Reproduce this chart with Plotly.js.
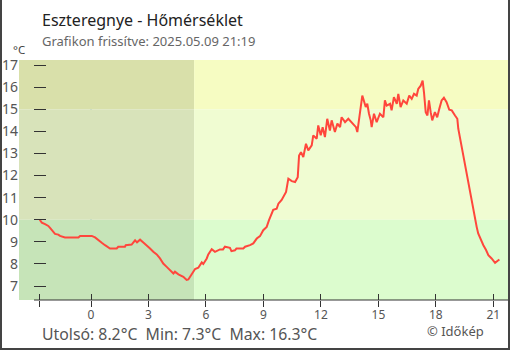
<!DOCTYPE html>
<html><head><meta charset="utf-8">
<script src="https://cdn.plot.ly/plotly-3.0.1.min.js"></script>
<style>
html,body{margin:0;padding:0;background:#fff;}
#wrap{position:relative;width:510px;height:350px;}
#chart{width:510px;height:350px;}
#frame{position:absolute;left:0;top:0;width:510px;height:350px;box-sizing:border-box;border-left:2px solid #444;border-right:2px solid #444;border-bottom:2px solid #444;pointer-events:none;}
</style></head>
<body><div id="wrap"><div id="chart"></div><div id="frame"></div></div>
<script>
// time in hours relative to midnight of 2025.05.09
var hours = [-2.68,-2.57,-2.40,-2.23,-2.14,-1.97,-1.88,-1.71,-1.62,-1.36,-0.66,-0.57,0.04,0.21,0.38,0.56,0.73,0.90,0.99,1.34,1.42,1.77,1.81,2.12,2.19,2.30,2.40,2.56,2.73,2.91,3.08,3.25,3.43,3.60,3.77,3.95,4.12,4.30,4.38,4.56,4.82,4.99,5.08,5.26,5.43,5.60,5.78,5.86,6.04,6.12,6.30,6.47,6.73,6.89,6.99,7.25,7.33,7.51,7.59,7.95,8.04,8.30,8.47,8.65,8.82,8.99,9.17,9.29,9.39,9.51,9.69,9.78,9.95,10.12,10.18,10.30,10.48,10.65,10.79,10.86,10.96,11.08,11.22,11.34,11.52,11.60,11.78,11.86,11.99,12.09,12.21,12.33,12.47,12.56,12.73,12.86,13.00,13.08,13.26,13.43,13.61,13.83,13.90,14.04,14.16,14.34,14.42,14.51,14.60,14.65,14.77,14.91,15.08,15.26,15.34,15.43,15.61,15.69,15.81,15.96,16.04,16.16,16.30,16.48,16.61,16.74,16.86,17.00,17.08,17.21,17.31,17.38,17.47,17.56,17.64,17.73,17.81,17.95,18.07,18.18,18.30,18.42,18.56,18.70,18.83,19.00,19.12,19.17,19.30,19.38,19.52,19.61,19.73,19.82,19.95,20.04,20.13,20.21,20.34,20.48,20.62,20.74,20.91,21.09,21.26,21.32];
var temps = [10.0,9.87,9.8,9.72,9.63,9.48,9.36,9.33,9.27,9.2,9.2,9.27,9.27,9.2,9.1,8.96,8.85,8.75,8.7,8.7,8.78,8.78,8.85,8.88,8.95,9.07,8.98,9.1,8.97,8.85,8.7,8.55,8.43,8.25,8.02,7.87,7.72,7.57,7.65,7.53,7.42,7.28,7.3,7.57,7.77,7.83,8.07,8.0,8.25,8.43,8.67,8.55,8.66,8.66,8.78,8.73,8.58,8.62,8.7,8.7,8.78,8.85,8.93,9.15,9.26,9.53,9.68,9.98,10.16,10.45,10.5,10.73,10.9,11.15,11.26,11.86,11.75,11.71,11.93,12.91,13.06,12.84,13.44,13.14,13.37,13.82,13.67,14.27,13.82,14.19,13.74,14.57,14.04,14.5,13.97,14.35,14.19,14.64,14.42,14.57,14.42,14.19,13.97,14.95,15.62,15.1,15.25,14.8,14.5,14.19,14.8,14.42,14.8,14.64,15.4,15.17,15.25,14.95,15.55,15.25,15.7,15.1,15.4,15.25,15.62,15.47,15.7,15.62,15.92,16.07,16.3,15.77,14.87,14.72,15.4,14.87,14.5,14.87,14.64,15.02,15.4,15.52,15.32,14.98,14.95,14.72,14.57,14.12,13.52,12.99,12.46,12.09,11.48,10.96,10.43,9.98,9.68,9.38,9.08,8.85,8.63,8.4,8.25,8.05,8.17,8.2];
var xTickVals = [-2.68,0,3,6,9,12,15,18,21];
var xTickText = ['','0','3','6','9','12','15','18','21'];
var yTickVals = [7,8,9,10,11,12,13,14,15,16,17];
var bandEdges = [10,15];
var sunrise = 5.38;
var titleText = 'Eszteregnye - Hőmérséklet';
var subText = 'Grafikon frissítve: 2025.05.09 21:19';
var footText = 'Utolsó: 8.2°C&nbsp;&nbsp;Min: 7.3°C&nbsp;&nbsp;Max: 16.3°C';
var creditText = '© Időkép';
var unitText = '°C';

var XR = [-3.76, 21.87], YR = [6.37, 17.23];
var L = 19, T = 59.5, W = 491, H = 240.5;
function px(x){return (x-L)/W;}
function py(y){return (T+H-y)/H;}
var FONT = 'Noto Sans, Open Sans, sans-serif';

function rect(x0,x1,y0,y1,c){return {type:'rect',xref:'x',yref:'y',x0:x0,x1:x1,y0:y0,y1:y1,fillcolor:c,line:{width:0},layer:'below'};}
var shapes = [
  rect(XR[0],sunrise,bandEdges[1],YR[1],'#d9e0aa'),
  rect(XR[0],sunrise,bandEdges[0],bandEdges[1],'#d8e3ba'),
  rect(XR[0],sunrise,YR[0],bandEdges[0],'#c6e4b8'),
  rect(sunrise,XR[1],bandEdges[1],YR[1],'#f6fcc2'),
  rect(sunrise,XR[1],bandEdges[0],bandEdges[1],'#f0fcd2'),
  rect(sunrise,XR[1],YR[0],bandEdges[0],'#dcfcce'),
  {type:'line',xref:'x',yref:'paper',x0:0,x1:0,y0:0,y1:1,line:{color:'#2e8bc9',width:1},layer:'below'},
  {type:'line',xref:'paper',yref:'paper',x0:px(34),x1:1,y0:0,y1:0,line:{color:'#333',width:1}}
];

var trace = {x:hours,y:temps,type:'scatter',mode:'lines',line:{color:'#ff463c',width:2},hoverinfo:'skip',showlegend:false};

var axBase = {range:XR,showgrid:false,zeroline:false,showline:false,fixedrange:true};
var layout = {
  width:510,height:350,
  margin:{l:L,r:0,t:T,b:350-T-H},
  paper_bgcolor:'#fff',plot_bgcolor:'rgba(0,0,0,0)',
  font:{family:FONT,color:'#555'},
  xaxis:Object.assign({},axBase,{tickvals:xTickVals,ticktext:xTickText,ticks:'',ticklabelstandoff:6,tickfont:{size:12,color:'#555'}}),
  xaxis2:Object.assign({},axBase,{overlaying:'x',anchor:'y',side:'bottom',tickvals:xTickVals,ticks:'outside',ticklen:6,tickcolor:'#333',tickwidth:1,showticklabels:false}),
  xaxis3:Object.assign({},axBase,{overlaying:'x',anchor:'y',side:'bottom',tickvals:xTickVals,ticks:'inside',ticklen:6,tickcolor:'#333',tickwidth:1,showticklabels:false}),
  yaxis:{range:YR,tickvals:yTickVals,ticks:'',showgrid:false,zeroline:false,showline:false,tickfont:{size:14,color:'#555'},fixedrange:true},
  yaxis2:{range:YR,overlaying:'y',anchor:'free',position:px(46),side:'left',tickvals:yTickVals,ticks:'outside',ticklen:12,tickcolor:'#333',tickwidth:1,showticklabels:false,showgrid:false,zeroline:false,showline:false},
  shapes:shapes,
  annotations:[
    {text:titleText,xref:'paper',yref:'paper',x:px(40),y:py(19),xanchor:'left',yanchor:'middle',showarrow:false,font:{size:16,color:'#222'}},
    {text:subText,xref:'paper',yref:'paper',x:px(40),y:py(40),xanchor:'left',yanchor:'middle',showarrow:false,font:{size:13,color:'#666'}},
    {text:unitText,xref:'paper',yref:'paper',x:px(11),y:py(48.5),xanchor:'left',yanchor:'middle',showarrow:false,font:{size:11.5,color:'#444'}},
    {text:footText,xref:'paper',yref:'paper',x:px(40),y:py(334),xanchor:'left',yanchor:'middle',showarrow:false,font:{size:15.8,color:'#555'}},
    {text:creditText,xref:'paper',yref:'paper',x:px(425),y:py(331),xanchor:'left',yanchor:'middle',showarrow:false,font:{size:13,color:'#555'}}
  ]
};
var t2 = {x:[XR[0]],y:[YR[0]],xaxis:'x2',yaxis:'y2',type:'scatter',mode:'markers',marker:{opacity:0},hoverinfo:'skip',showlegend:false};
var t3 = {x:[XR[0]],y:[YR[0]],xaxis:'x3',yaxis:'y',type:'scatter',mode:'markers',marker:{opacity:0},hoverinfo:'skip',showlegend:false};
Plotly.newPlot('chart',[trace,t2,t3],layout,{displayModeBar:false,staticPlot:true});
</script></body></html>
